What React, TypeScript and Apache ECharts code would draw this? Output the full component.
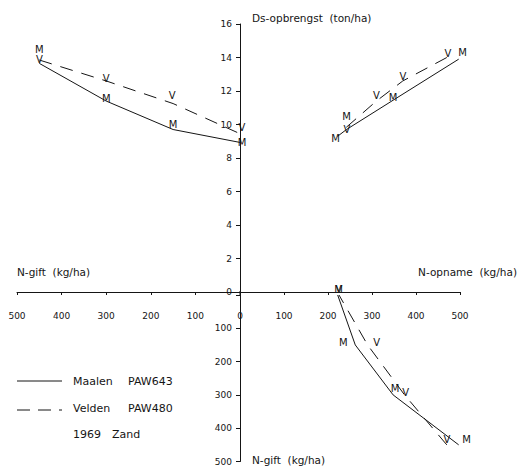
import React, { useEffect, useRef } from "react";
import * as echarts from "echarts";

// N-gift levels (kg/ha), listed from the highest dose down to zero
const giftLevels = [450, 300, 150, 0];

// Ds-opbrengst (ton/ha) per N-gift level
const maalenYield = [13.65, 11.4, 9.7, 8.93];
const veldenYield = [13.85, 12.6, 11.25, 9.45];

// N-opname (kg/ha) with its Ds-opbrengst (ton/ha)
const maalenUptake = [497, 348, 242, 222];
const maalenUptakeYield = [13.9, 11.45, 9.7, 9.3];
const veldenUptake = [470, 370, 310, 227];
const veldenUptakeYield = [14.0, 12.6, 11.4, 9.5];

// N-opname (kg/ha) per N-gift level
const maalenUptakeByGift = [497, 348, 262, 222];
const veldenUptakeByGift = [470, 374, 290, 225];

const yieldTicks = { min: 0, max: 16, interval: 2 };
const nTicks = { min: 0, max: 500, interval: 100 };

// where each plotted letter sits relative to its point (px)
const markOffsets = {
  maalenGift: [[0, -14], [0, -3], [0, -5], [2, 0]],
  veldenGift: [[0, -1], [0, -2], [-1, -8], [2, -6]],
  maalenOpname: [[4, -7], [0, -3], [0, -13], [-2, 2]],
  veldenOpname: [[1, -4], [0, -4], [0, -6], [7, -3]],
  maalenGiftOpname: [[8, -5], [2, -6], [-12, -2], [1, -6]],
  veldenGiftOpname: [[0, -5], [1, -2], [9, -2], [0, -6]],
};

const SANS = '"DejaVu Sans", Verdana, sans-serif';
const INK = "#151515";

function curve(
  name: string,
  xs: number[],
  ys: number[],
  axis: number,
  dashed: boolean,
  mark: string,
  offsets: number[][]
) {
  return {
    type: "line",
    name,
    data: xs.map((x, i) => ({
      value: [x, ys[i]],
      label: { offset: offsets[i] },
    })),
    xAxisIndex: axis,
    yAxisIndex: axis,
    symbol: "circle",
    symbolSize: 1,
    showSymbol: true,
    itemStyle: { color: INK, opacity: 0 },
    lineStyle: { color: INK, width: 1, type: dashed ? [13, 9] : "solid" },
    label: {
      show: true,
      position: "inside",
      formatter: mark,
      fontFamily: SANS,
      fontSize: 10,
      color: INK,
      textBorderWidth: 0,
      textBorderColor: "transparent",
      opacity: 1,
    },
    silent: true,
    z: 3,
  };
}

const axisLineStyle = { color: INK, width: 1 };
const tickLabel = { fontFamily: SANS, fontSize: 9, color: INK };

function text(str: string, x: number, y: number, size: number, align = "left") {
  return {
    type: "text",
    x,
    y,
    style: {
      text: str,
      fontFamily: SANS,
      fontSize: size,
      fill: INK,
      textAlign: align,
      textVerticalAlign: "middle",
    },
  };
}

export default function App() {
  const ref = useRef<HTMLDivElement>(null);

  useEffect(() => {
    document.body.style.margin = "0";
    if (!ref.current) return;
    const chart = echarts.init(ref.current, undefined, { renderer: "svg" });

    const option = {
      animation: false,
      color: [INK],
      backgroundColor: "#ffffff",
      grid: [
        { left: 17, top: 24, width: 223, height: 268 },
        { left: 240, top: 24, width: 220, height: 268 },
        { left: 240, top: 295, width: 220, height: 167 },
      ],
      xAxis: [
        {
          gridIndex: 0,
          type: "value",
          ...nTicks,
          inverse: true,
          axisLine: { show: true, onZero: false, lineStyle: axisLineStyle },
          axisTick: { show: true, length: 3, lineStyle: axisLineStyle },
          axisLabel: { ...tickLabel, margin: 19, showMinLabel: true, showMaxLabel: true },
          splitLine: { show: false },
        },
        {
          gridIndex: 1,
          type: "value",
          ...nTicks,
          axisLine: { show: true, onZero: false, lineStyle: axisLineStyle },
          axisTick: { show: true, length: 3, lineStyle: axisLineStyle },
          axisLabel: {
            ...tickLabel,
            margin: 19,
            formatter: (v: number) => (v === 0 ? "" : String(v)),
          },
          splitLine: { show: false },
        },
        { gridIndex: 2, type: "value", ...nTicks, show: false },
      ],
      yAxis: [
        { gridIndex: 0, type: "value", ...yieldTicks, show: false },
        {
          gridIndex: 1,
          type: "value",
          ...yieldTicks,
          axisLine: { show: true, onZero: false, lineStyle: axisLineStyle },
          axisTick: { show: true, length: 4, lineStyle: axisLineStyle },
          axisLabel: { ...tickLabel, margin: 8 },
          splitLine: { show: false },
        },
        {
          gridIndex: 2,
          type: "value",
          ...nTicks,
          inverse: true,
          axisLine: { show: true, onZero: false, lineStyle: axisLineStyle },
          axisTick: { show: true, length: 4, lineStyle: axisLineStyle },
          axisLabel: {
            ...tickLabel,
            margin: 8,
            formatter: (v: number) => (v === 0 ? "" : String(v)),
          },
          splitLine: { show: false },
        },
      ],
      series: [
        curve("Maalen gift", giftLevels, maalenYield, 0, false, "M", markOffsets.maalenGift),
        curve("Velden gift", giftLevels, veldenYield, 0, true, "V", markOffsets.veldenGift),
        curve("Maalen opname", maalenUptake, maalenUptakeYield, 1, false, "M", markOffsets.maalenOpname),
        curve("Velden opname", veldenUptake, veldenUptakeYield, 1, true, "V", markOffsets.veldenOpname),
        curve("Maalen gift-opname", maalenUptakeByGift, giftLevels, 2, false, "M", markOffsets.maalenGiftOpname),
        curve("Velden gift-opname", veldenUptakeByGift, giftLevels, 2, true, "V", markOffsets.veldenGiftOpname),
      ],
      graphic: [
        {
          type: "line",
          shape: { x1: 240, y1: 291, x2: 240, y2: 296 },
          style: { stroke: INK, lineWidth: 1 },
        },
        text("Ds-opbrengst  (ton/ha)", 252, 18, 10.5),
        text("N-gift  (kg/ha)", 17, 272, 10.5),
        text("N-opname  (kg/ha)", 517, 272, 10.5, "right"),
        text("N-gift  (kg/ha)", 252, 460, 10.5),
        {
          type: "line",
          shape: { x1: 17, y1: 381, x2: 62, y2: 381 },
          style: { stroke: INK, lineWidth: 1 },
        },
        {
          type: "line",
          shape: { x1: 17, y1: 410, x2: 62, y2: 410 },
          style: { stroke: INK, lineWidth: 1, lineDash: [13, 8] },
        },
        text("Maalen", 73, 381, 11),
        text("PAW643", 128, 381, 11),
        text("Velden", 73, 408, 11),
        text("PAW480", 128, 408, 11),
        text("1969", 73, 434, 11),
        text("Zand", 112, 434, 11),
      ],
    };

    chart.setOption(option as any);
    return () => chart.dispose();
  }, []);

  return (
    <div
      ref={ref}
      style={{ position: "fixed", left: 0, top: 0, width: 520, height: 466 }}
    />
  );
}
